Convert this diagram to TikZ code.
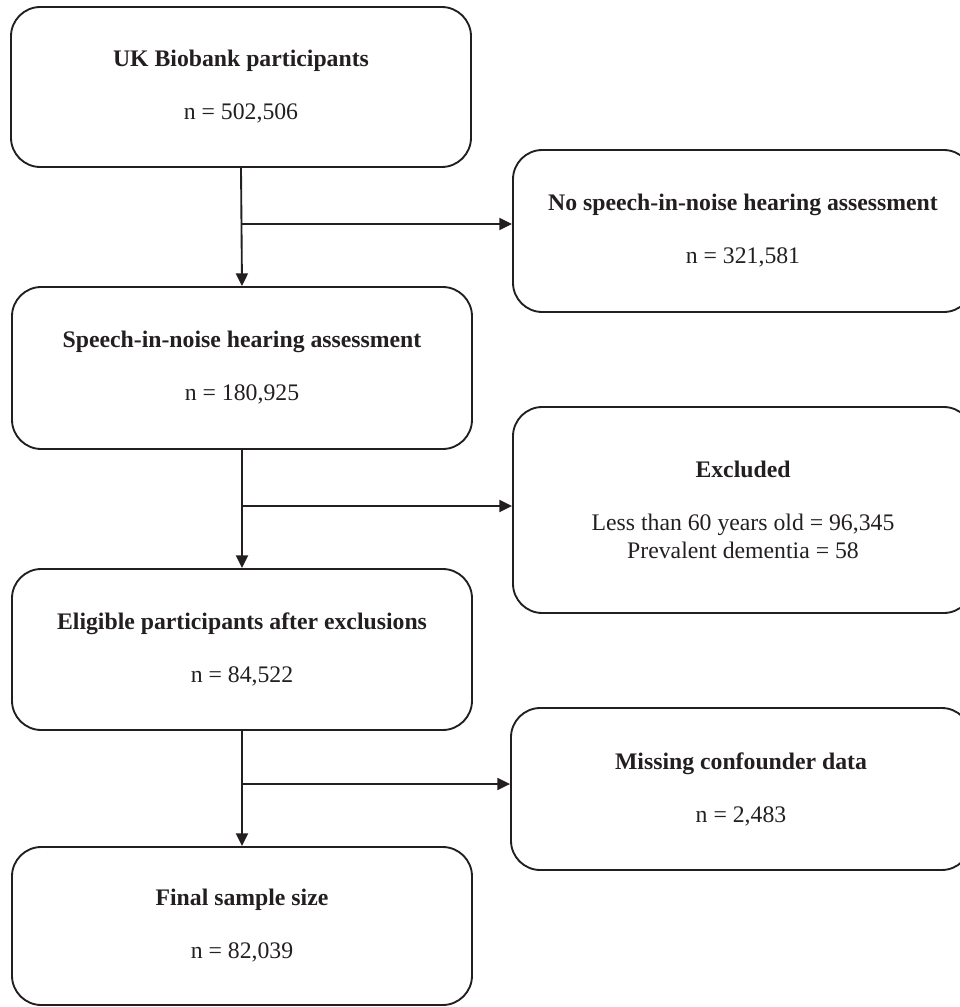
\documentclass[tikz,border=0pt]{standalone}
\usepackage{fontspec}
\setmainfont{Liberation Serif}
\usetikzlibrary{arrows.meta}
\definecolor{ink}{HTML}{231F20}
\begin{document}
\begin{tikzpicture}[x=0.75pt,y=-0.75pt,
  box/.style={draw=ink, line width=1.4pt, rounded corners=22pt, align=center, text=ink,
    font=\fontsize{17.8pt}{21pt}\selectfont, inner sep=0pt, minimum width=345pt},
  flow/.style={draw=ink, line width=1.4pt, -{Triangle[length=9.5pt,width=9pt]}},
]
\clip (0,0) rectangle (960,1007);
% left column
\node[box, minimum height=120pt] (b1) at (241,87)
  {\textbf{UK Biobank participants}\\[18.75pt] n = 502,506};
\node[box, minimum height=121.5pt] (b2) at (242,368)
  {\textbf{Speech-in-noise hearing assessment}\\[18.75pt] n = 180,925};
\node[box, minimum height=120.75pt] (b3) at (242,649.5)
  {\textbf{Eligible participants after exclusions}\\[18.75pt] n = 84,522};
\node[box, minimum height=118.5pt] (b4) at (242,926)
  {\textbf{Final sample size}\\[18.75pt] n = 82,039};
% right column
\node[box, minimum height=121.5pt] (r1) at (743,231)
  {\textbf{No speech-in-noise hearing assessment}\\[18.75pt] n = 321,581};
\node[box, minimum height=154.5pt] (r2) at (743,510)
  {\textbf{Excluded}\\[18.75pt] Less than 60 years old = 96,345\\ Prevalent dementia = 58};
\node[box, minimum height=121.5pt] (r3) at (741,789)
  {\textbf{Missing confounder data}\\[18.75pt] n = 2,483};
% junctions
\coordinate (j1) at (241,224);
\coordinate (j2) at (241,506);
\coordinate (j3) at (241,784);
% connectors
\draw[flow] (b1.south) -- (b2.north);
\draw[flow] (b2.south) -- (b3.north);
\draw[flow] (b3.south) -- (b4.north);
\draw[flow] (j1) -- (j1 -| r1.west);
\draw[flow] (j2) -- (j2 -| r2.west);
\draw[flow] (j3) -- (j3 -| r3.west);
\end{tikzpicture}
\end{document}
